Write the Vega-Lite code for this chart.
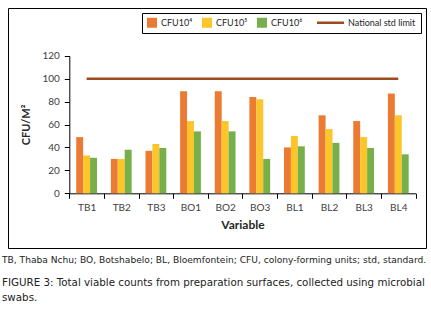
{
  "$schema": "https://vega.github.io/schema/vega-lite/v6.json",
  "width": 418,
  "height": 240,
  "autosize": "none",
  "padding": {"left": 8, "top": 8, "right": 5, "bottom": 64},
  "background": "white",
  "config": {
    "font": "Lato",
    "view": {"stroke": "black", "strokeWidth": 1},
    "axis": {"labelFont": "Lato", "titleFont": "Lato", "labelColor": "#404040", "titleColor": "#262626", "domainColor": "#000", "tickColor": "#000", "grid": false}
  },
  "title": {
    "text": "TB, Thaba Nchu; BO, Botshabelo; BL, Bloemfontein; CFU, colony-forming units; std, standard.",
    "subtitle": ["FIGURE 3: Total viable counts from preparation surfaces, collected using microbial", "swabs."],
    "orient": "bottom",
    "anchor": "start",
    "dx": -6,
    "offset": 8,
    "font": "DejaVu Sans",
    "fontSize": 9.1,
    "fontWeight": "normal",
    "color": "#222",
    "subtitleFont": "DejaVu Sans",
    "subtitleFontSize": 10.3,
    "subtitleColor": "#222",
    "subtitlePadding": 13,
    "subtitleLineHeight": 14.5
  },
  "datasets": {
    "counts": [
      {"site": "TB1", "series": "CFU10⁴", "value": 49},
      {"site": "TB1", "series": "CFU10⁵", "value": 33},
      {"site": "TB1", "series": "CFU10⁶", "value": 31},
      {"site": "TB2", "series": "CFU10⁴", "value": 30},
      {"site": "TB2", "series": "CFU10⁵", "value": 30},
      {"site": "TB2", "series": "CFU10⁶", "value": 38},
      {"site": "TB3", "series": "CFU10⁴", "value": 37},
      {"site": "TB3", "series": "CFU10⁵", "value": 43},
      {"site": "TB3", "series": "CFU10⁶", "value": 39.5},
      {"site": "BO1", "series": "CFU10⁴", "value": 89},
      {"site": "BO1", "series": "CFU10⁵", "value": 63},
      {"site": "BO1", "series": "CFU10⁶", "value": 54},
      {"site": "BO2", "series": "CFU10⁴", "value": 89},
      {"site": "BO2", "series": "CFU10⁵", "value": 63},
      {"site": "BO2", "series": "CFU10⁶", "value": 54},
      {"site": "BO3", "series": "CFU10⁴", "value": 84},
      {"site": "BO3", "series": "CFU10⁵", "value": 82},
      {"site": "BO3", "series": "CFU10⁶", "value": 30},
      {"site": "BL1", "series": "CFU10⁴", "value": 40},
      {"site": "BL1", "series": "CFU10⁵", "value": 50},
      {"site": "BL1", "series": "CFU10⁶", "value": 41},
      {"site": "BL2", "series": "CFU10⁴", "value": 68},
      {"site": "BL2", "series": "CFU10⁵", "value": 56},
      {"site": "BL2", "series": "CFU10⁶", "value": 44},
      {"site": "BL3", "series": "CFU10⁴", "value": 63},
      {"site": "BL3", "series": "CFU10⁵", "value": 49},
      {"site": "BL3", "series": "CFU10⁶", "value": 39.5},
      {"site": "BL4", "series": "CFU10⁴", "value": 87},
      {"site": "BL4", "series": "CFU10⁵", "value": 68},
      {"site": "BL4", "series": "CFU10⁶", "value": 34}
    ],
    "limit": [
      {"site": "TB1", "series": "National std limit", "value": 100},
      {"site": "BL4", "series": "National std limit", "value": 100}
    ]
  },
  "encoding": {
    "x": {
      "field": "site", "type": "nominal",
      "sort": ["TB1", "TB2", "TB3", "BO1", "BO2", "BO3", "BL1", "BL2", "BL3", "BL4"],
      "scale": {"domain": ["TB1", "TB2", "TB3", "BO1", "BO2", "BO3", "BL1", "BL2", "BL3", "BL4"], "range": [61.3, 407.6], "paddingInner": 0, "paddingOuter": 0},
      "axis": {"title": "Variable", "titleFontSize": 12, "titleFontWeight": "bold", "titlePadding": 7, "labelFontSize": 10, "labelAngle": 0, "labelPadding": 4, "tickBand": "extent", "tickSize": 5, "offset": -54.7, "domainWidth": 1, "tickWidth": 1}
    },
    "y": {
      "field": "value", "type": "quantitative",
      "scale": {"domain": [0, 120], "range": [185.3, 47.7], "nice": false},
      "axis": {"title": "CFU/M²", "titleFontSize": 11, "titleFontWeight": "bold", "titlePadding": 10, "labelFontSize": 10, "values": [0, 20, 40, 60, 80, 100, 120], "tickSize": 5, "labelPadding": 5, "offset": -61.3, "domainWidth": 1, "tickWidth": 1}
    },
    "color": {
      "field": "series", "type": "nominal",
      "scale": {"domain": ["CFU10⁴", "CFU10⁵", "CFU10⁶", "National std limit"], "range": ["#EB7B32", "#FCC52A", "#77AF4A", "#9C4A1E"]},
      "legend": {
        "title": null,
        "orient": "top-right",
        "offset": 5,
        "direction": "horizontal",
        "strokeColor": "black",
        "padding": 5,
        "labelFontSize": 9,
        "labelFont": "Lato",
        "labelColor": "#262626",
        "columnPadding": 9,
        "symbolSize": 100,
        "encode": {
          "symbols": {
            "update": {
              "shape": {"signal": "datum.value === 'National std limit' ? 'stroke' : 'square'"},
              "size": {"signal": "datum.value === 'National std limit' ? 729 : 100"},
              "x": {"signal": "datum.value === 'National std limit' ? 13.5 : 5"},
              "fill": {"scale": "color", "field": "value"},
              "stroke": {"scale": "color", "field": "value"},
              "strokeWidth": {"signal": "datum.value === 'National std limit' ? 2.5 : 0"},
              "opacity": {"value": 1}
            }
          },
          "labels": {
            "update": {
              "x": {"signal": "datum.value === 'National std limit' ? 31 : 14"}
            }
          }
        }
      }
    }
  },
  "layer": [
    {
      "data": {"name": "counts"},
      "mark": {"type": "bar"},
      "encoding": {
        "xOffset": {"field": "series", "type": "nominal", "sort": ["CFU10⁴", "CFU10⁵", "CFU10⁶"], "scale": {"paddingInner": 0, "paddingOuter": 1}}
      }
    },
    {
      "data": {"name": "limit"},
      "mark": {"type": "line", "strokeWidth": 2.5},
      "encoding": {}
    }
  ]
}
